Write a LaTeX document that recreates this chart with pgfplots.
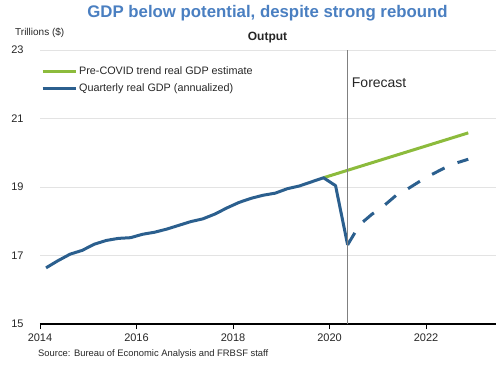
\documentclass[border=0pt]{standalone}
\usepackage{fontspec}
\setmainfont{Liberation Sans}
\usepackage{pgfplots}
\pgfplotsset{compat=1.18}
\definecolor{gdpblue}{HTML}{2B5F8E}
\definecolor{trendgreen}{HTML}{8CBB3C}
\definecolor{titleblue}{HTML}{4A7FC1}
\definecolor{gridgray}{HTML}{E3E3E3}
\definecolor{vlinegray}{HTML}{808080}
\definecolor{txt}{HTML}{262626}
\begin{document}
\begin{tikzpicture}
\begin{axis}[
  scale only axis, width=456bp, height=274bp,
  xmin=2014, xmax=2023.45, ymin=15, ymax=23,
  xtick={2014,2016,...,2022}, ytick={15,17,...,23},
  /pgf/number format/1000 sep={},
  /pgf/number format/assume math mode=true,
  tick label style={font=\fontsize{11bp}{13bp}\selectfont, text=txt},
  axis x line*=bottom, axis y line*=left,
  x axis line style={draw=black, line width=1.6bp, -},
  y axis line style={draw=none},
  ytick style={draw=none},
  xtick style={draw=black, line width=0.8bp},
  tick align=outside, major tick length=5bp,
  yticklabel style={anchor=east, xshift=-8bp},
  xticklabel style={yshift=-1bp},
  ymajorgrids, grid style={gridgray, line width=0.8bp},
  clip=false,
  legend style={at={(rel axis cs:0.002,0.946)}, anchor=north west, draw=none, fill=none,
     font=\fontsize{10.8bp}{13bp}\selectfont, text=txt, row sep=3.2bp,
     inner sep=0pt, cells={anchor=west}},
  legend image code/.code={\draw[#1, line width=3bp, solid] (0bp,0bp) -- (33bp,0bp);},
  legend cell align=left,
]
\path (rel axis cs:-0.0877,-0.1496) rectangle (rel axis cs:1.00877,1.1825);
\addplot[trendgreen, line width=3bp] coordinates {(2019.875,19.27) (2022.875,20.58)};
\addlegendentry{Pre-COVID trend real GDP estimate}
\addplot[gdpblue, line width=3bp, line join=round] coordinates {
(2014.125,16.64) (2014.375,16.85) (2014.625,17.04) (2014.875,17.15)
(2015.125,17.33) (2015.375,17.44) (2015.625,17.50) (2015.875,17.52)
(2016.125,17.62) (2016.375,17.68) (2016.625,17.77) (2016.875,17.88)
(2017.125,17.99) (2017.375,18.07) (2017.625,18.21) (2017.875,18.39)
(2018.125,18.55) (2018.375,18.67) (2018.625,18.76) (2018.875,18.82)
(2019.125,18.95) (2019.375,19.03) (2019.625,19.15) (2019.875,19.27)
(2020.125,19.04) (2020.375,17.31)};
\addlegendentry{Quarterly real GDP (annualized)}
\addplot[gdpblue, line width=3bp, dash pattern=on 14bp off 14bp, forget plot] coordinates {
(2020.375,17.31) (2020.625,17.90) (2020.875,18.20) (2021.125,18.45)
(2021.375,18.75) (2021.625,18.95) (2021.875,19.17) (2022.125,19.37)
(2022.375,19.55) (2022.625,19.70) (2022.875,19.81)};
\addplot[vlinegray, line width=1.2bp, forget plot] coordinates {(2020.375,15) (2020.375,23)};
\node[anchor=west, inner sep=0pt, font=\fontsize{14bp}{16bp}\selectfont, text=txt] at (axis cs:2020.46,22.04) {Forecast};
\node[inner sep=0pt, font=\bfseries\fontsize{16.8bp}{19bp}\selectfont, text=titleblue] at (rel axis cs:0.4989,1.135) {GDP below potential, despite strong rebound};
\node[inner sep=0pt, font=\bfseries\fontsize{12bp}{14bp}\selectfont, text=txt] at (rel axis cs:0.4989,1.044) {Output};
\node[anchor=west, inner sep=0pt, font=\fontsize{10bp}{12bp}\selectfont, text=txt] at (rel axis cs:-0.0548,1.062) {Trillions (\$)};
\node[anchor=west, inner sep=0pt, font=\fontsize{9.4bp}{11bp}\selectfont, text=txt] at (rel axis cs:-0.0044,-0.1095) {Source: Bureau of Economic Analysis and FRBSF staff};
\end{axis}
\end{tikzpicture}
\end{document}
